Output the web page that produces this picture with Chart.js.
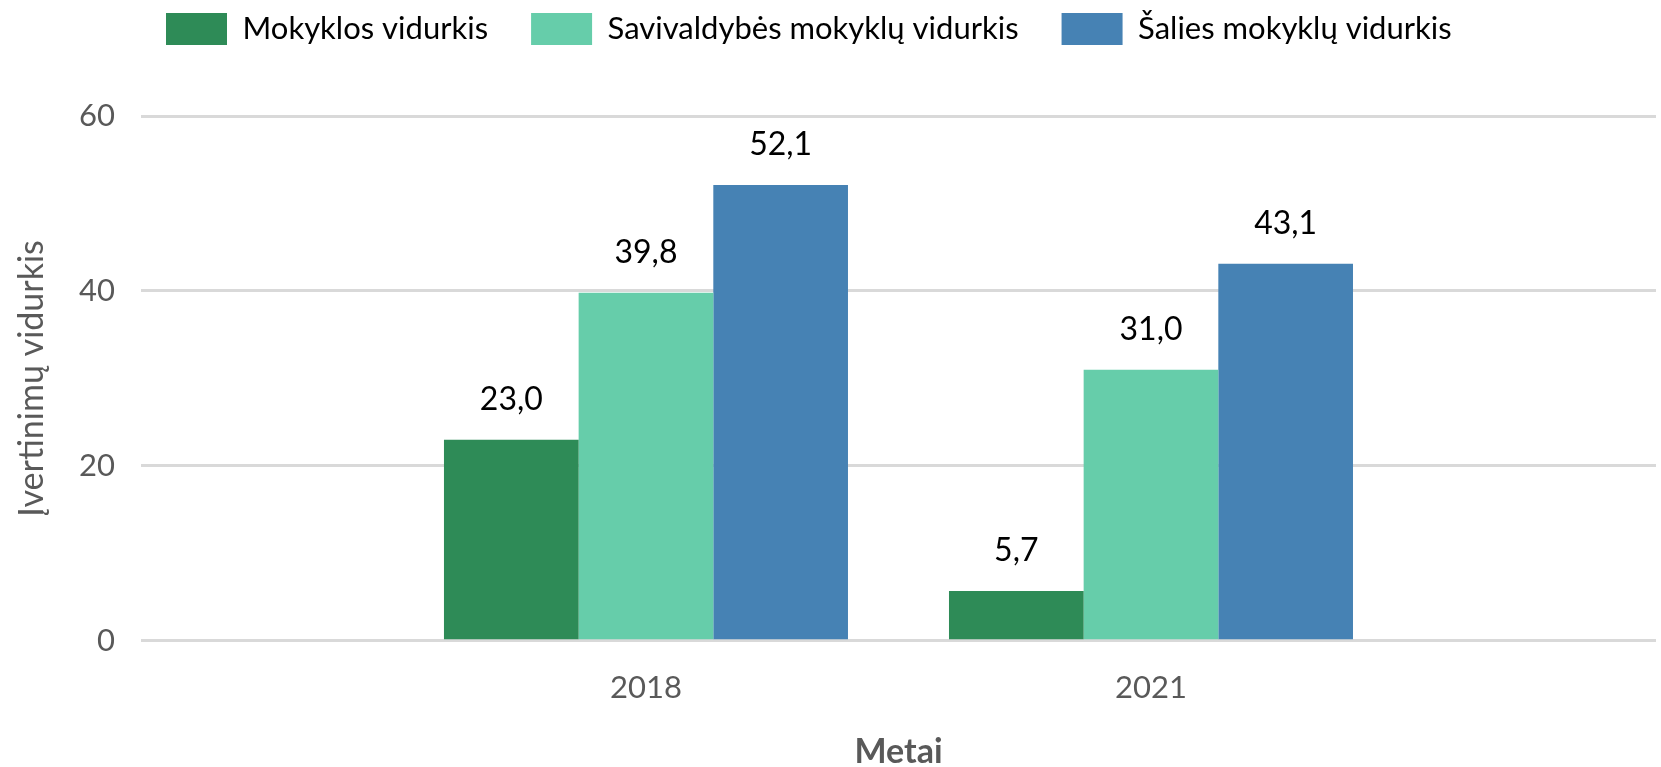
<!DOCTYPE html>
<html>
<head>
<meta charset="utf-8">
<script src="https://cdn.jsdelivr.net/npm/chart.js@4"></script>
<style>
  html, body { margin: 0; padding: 0; background: #fff; }
  #wrap { width: 1661px; height: 767px; }
</style>
</head>
<body>
<div id="wrap"><canvas id="chart"></canvas></div>
<script>
const years = ['2018', '2021'];
const mokyklos = [23.0, 5.7];
const savivaldybes = [39.8, 31.0];
const salies = [52.1, 43.1];
const yTicks = [0, 20, 40, 60];

// empty slots on both sides so the groups sit at 1/3 and 2/3 of the width
const labels = ['', ...years, ''];
const pad = (arr) => [null, ...arr, null];

const FONT = 'Lato';

// value labels above the bars, comma as decimal separator
const valueLabels = {
  id: 'valueLabels',
  afterDatasetsDraw(chart) {
    const ctx = chart.ctx;
    ctx.save();
    ctx.font = '32px ' + FONT;
    ctx.fillStyle = '#000';
    ctx.textAlign = 'center';
    ctx.textBaseline = 'alphabetic';
    chart.data.datasets.forEach((ds, i) => {
      const meta = chart.getDatasetMeta(i);
      meta.data.forEach((bar, j) => {
        const v = ds.data[j];
        if (v == null) return;
        ctx.fillText(v.toFixed(1).replace('.', ','), bar.x, bar.y - 30);
      });
    });
    ctx.restore();
  }
};

// extra room under the legend and a small shift to the left
const legendTweak = {
  id: 'legendTweak',
  afterInit(chart) {
    const lg = chart.legend;
    const fit = lg.fit;
    lg.fit = function () {
      fit.call(this);
      this.height += 61;
    };
    const draw = lg.draw;
    lg.draw = function () {
      const dx = this.legendHitBoxes.length ? 166 - this.legendHitBoxes[0].left : 0;
      this.ctx.save();
      this.ctx.translate(dx, 0);
      draw.call(this);
      this.ctx.restore();
    };
  }
};

new Chart(document.getElementById('chart'), {
  type: 'bar',
  data: {
    labels: labels,
    datasets: [
      { label: 'Mokyklos vidurkis', data: pad(mokyklos), backgroundColor: '#2E8B57' },
      { label: 'Savivaldybės mokyklų vidurkis', data: pad(savivaldybes), backgroundColor: '#66CDAA' },
      { label: 'Šalies mokyklų vidurkis', data: pad(salies), backgroundColor: '#4682B4' }
    ]
  },
  options: {
    responsive: true,
    maintainAspectRatio: false,
    animation: false,
    layout: { padding: { left: 15, right: 5, top: -30, bottom: -2 } },
    datasets: {
      bar: { categoryPercentage: 0.8, barPercentage: 1.0, borderWidth: 0 }
    },
    scales: {
      x: {
        offset: false,
        afterFit: (s) => { s.paddingLeft = 0; s.paddingRight = 0; },
        grid: { display: false, drawTicks: false },
        border: { display: false },
        ticks: { color: '#595959', font: { family: FONT, size: 31 }, padding: 29 },
        title: {
          display: true,
          text: 'Metai',
          color: '#595959',
          font: { family: FONT, size: 34, weight: 'bold', lineHeight: 1 },
          padding: { top: -1, bottom: 0 }
        }
      },
      y: {
        min: 0,
        max: 60,
        afterBuildTicks: (axis) => { axis.ticks = yTicks.map(v => ({ value: v })); },
        grid: { color: '#d9d9d9', lineWidth: 3, drawTicks: false },
        border: { display: false },
        ticks: { color: '#595959', font: { family: FONT, size: 31 }, padding: 26 },
        title: {
          display: true,
          text: 'Įvertinimų vidurkis',
          color: '#595959',
          font: { family: FONT, size: 34, lineHeight: 1 },
          padding: { top: 0, bottom: 4 }
        }
      }
    },
    plugins: {
      legend: {
        position: 'top',
        labels: {
          boxWidth: 61,
          boxHeight: 32,
          padding: 43,
          color: '#000',
          font: { family: FONT, size: 31 }
        }
      },
      tooltip: { enabled: false }
    }
  },
  plugins: [valueLabels, legendTweak]
});
</script>
</body>
</html>
